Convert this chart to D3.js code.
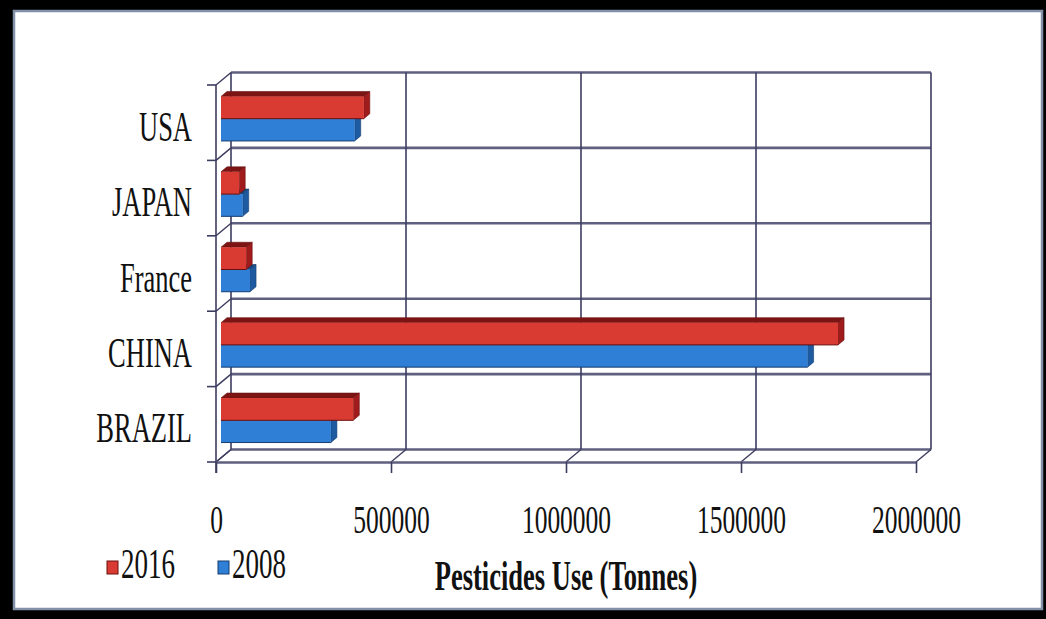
<!DOCTYPE html>
<html>
<head>
<meta charset="utf-8">
<script src="https://cdn.jsdelivr.net/npm/d3@7"></script>
<style>
  html, body { margin: 0; padding: 0; background: #000; }
  svg { display: block; }
  text { font-family: "Liberation Serif", "Times New Roman", serif; fill: #111; }
</style>
</head>
<body>
<svg id="chart" width="1046" height="619"></svg>
<script>
// Pesticide use by country, 2008 vs 2016 (tonnes)
const categories = ["USA", "JAPAN", "France", "CHINA", "BRAZIL"];
const seriesNames = ["2016", "2008"];
const values2016 = [408000, 52000, 72000, 1763000, 378000];
const values2008 = [382000, 62000, 83000, 1676000, 314000];
const xTicks = [0, 500000, 1000000, 1500000, 2000000];
const xTitle = "Pesticides Use (Tonnes)";

const svg = d3.select("#chart");
const W = 1046, H = 619;

// page frame
svg.append("rect").attr("width", W).attr("height", H).attr("fill", "#000");
svg.append("rect").attr("x", 14).attr("y", 11).attr("width", 1028).attr("height", 598)
  .attr("fill", "#fff").attr("stroke", "#8391a8").attr("stroke-width", 2.5);

// 3D plot geometry: front plane origin, wall depth offset
const fx = 216, fyTop = 85, fyBot = 462;
const depth = { dx: 15, dy: -12.5 };
const plotW = 700;
const textStretch = 1.6;

const x = d3.scaleLinear().domain([0, 2000000]).range([0, plotW]);
const yFront = d3.scaleBand().domain(categories).range([fyTop, fyBot]);
const step = yFront.step();

const lineCol = "#3d3d60";
const gridCol = "#5f5f80";

const g = svg.append("g");

// back wall horizontal gridlines (category boundaries)
const boundaries = d3.range(categories.length + 1).map(i => fyTop + i * step);
g.selectAll(".hgrid").data(boundaries).join("line")
  .attr("x1", fx + depth.dx).attr("x2", fx + depth.dx + plotW)
  .attr("y1", d => d + depth.dy).attr("y2", d => d + depth.dy)
  .attr("stroke", gridCol).attr("stroke-width", 2.6);

// back wall vertical gridlines (value ticks)
g.selectAll(".vgrid").data(xTicks).join("line")
  .attr("x1", d => fx + depth.dx + x(d)).attr("x2", d => fx + depth.dx + x(d))
  .attr("y1", fyTop + depth.dy).attr("y2", fyBot + depth.dy)
  .attr("stroke", lineCol).attr("stroke-width", 1.6);

// side wall: diagonals at each category boundary
g.selectAll(".sdiag").data(boundaries).join("line")
  .attr("x1", fx).attr("y1", d => d)
  .attr("x2", fx + depth.dx).attr("y2", d => d + depth.dy)
  .attr("stroke", lineCol).attr("stroke-width", 1.4);

// floor: diagonals at each value tick
g.selectAll(".fdiag").data(xTicks).join("line")
  .attr("x1", d => fx + x(d)).attr("y1", fyBot)
  .attr("x2", d => fx + depth.dx + x(d)).attr("y2", fyBot + depth.dy)
  .attr("stroke", lineCol).attr("stroke-width", 1.4);

// front-left axis line and its boundary ticks
g.append("line").attr("x1", fx).attr("x2", fx).attr("y1", fyTop).attr("y2", fyBot + 11)
  .attr("stroke", lineCol).attr("stroke-width", 1.6);
g.selectAll(".ytick").data(boundaries).join("line")
  .attr("x1", fx - 9).attr("x2", fx).attr("y1", d => d).attr("y2", d => d)
  .attr("stroke", lineCol).attr("stroke-width", 1.6);

// 3D bars
const barShift = { dx: 5, dy: -4 };     // bar plane sits a third into the depth
const barDepth = { dx: 6, dy: -5 };
const yBar = d3.scaleBand().domain(categories)
  .range([fyTop + barShift.dy, fyBot + barShift.dy])
  .paddingInner(0.41).paddingOuter(0.205);
const ySeries = d3.scaleBand().domain(seriesNames).range([0, yBar.bandwidth()]);

const palette = {
  "2016": { front: "#d93a31", top: "#7c1414", side: "#a01c1c", edge: "#6a1010" },
  "2008": { front: "#2f7fd6", top: "#17497f", side: "#1d5aa0", edge: "#163d6e" }
};

const bars = [];
categories.forEach((c, i) => {
  bars.push({ cat: c, s: "2008", v: values2008[i] });
  bars.push({ cat: c, s: "2016", v: values2016[i] });
});

const bx0 = fx + barShift.dx;
const barG = g.selectAll(".bar").data(bars).join("g").attr("class", "bar");
barG.each(function(d) {
  const sel = d3.select(this);
  const col = palette[d.s];
  const x0 = bx0, x1 = bx0 + x(d.v);
  const y0 = yBar(d.cat) + ySeries(d.s), h = ySeries.bandwidth();
  const ddx = barDepth.dx, ddy = barDepth.dy;
  // top face
  sel.append("path")
    .attr("d", `M${x0},${y0}L${x1},${y0}L${x1 + ddx},${y0 + ddy}L${x0 + ddx},${y0 + ddy}Z`)
    .attr("fill", col.top).attr("stroke", col.edge).attr("stroke-width", 0.6);
  // side face
  sel.append("path")
    .attr("d", `M${x1},${y0}L${x1 + ddx},${y0 + ddy}L${x1 + ddx},${y0 + h + ddy}L${x1},${y0 + h}Z`)
    .attr("fill", col.side).attr("stroke", col.edge).attr("stroke-width", 0.6);
  // front face
  sel.append("rect").attr("x", x0).attr("y", y0).attr("width", x1 - x0).attr("height", h)
    .attr("fill", col.front);
  sel.append("line").attr("x1", x0).attr("x2", x1).attr("y1", y0 + h).attr("y2", y0 + h)
    .attr("stroke", col.edge).attr("stroke-width", 1);
});

// value axis along the front edge of the floor
const xAxis = d3.axisBottom(x).tickValues(xTicks).tickSize(11).tickSizeOuter(0)
  .tickFormat(d3.format("d"));
const xa = svg.append("g").attr("transform", `translate(${fx},${fyBot})`).call(xAxis);
xa.select(".domain").attr("stroke", gridCol).attr("stroke-width", 2.6);
xa.selectAll(".tick line").attr("stroke", lineCol).attr("stroke-width", 1.6);
xa.selectAll(".tick text")
  .attr("y", 71 / textStretch).attr("dy", 0)
  .attr("transform", `scale(1,${textStretch})`)
  .style("font-family", "'Liberation Serif', serif").style("font-size", "25.5px")
  .attr("fill", "#111");

// category axis labels
const yAxis = d3.axisLeft(yFront).tickSize(0).tickPadding(24);
const ya = svg.append("g").attr("transform", `translate(${fx},0)`).call(yAxis);
ya.select(".domain").remove();
ya.selectAll(".tick text")
  .attr("dy", (18 / textStretch) + "px")
  .attr("transform", `scale(1,${textStretch})`)
  .style("font-family", "'Liberation Serif', serif").style("font-size", "26.5px")
  .attr("fill", "#111");

// axis title
svg.append("text")
  .attr("transform", `translate(${fx + plotW / 2},590) scale(1,${textStretch})`)
  .attr("text-anchor", "middle")
  .style("font-size", "26.5px").style("font-weight", "bold")
  .text(xTitle);

// legend
const legendX = [107, 218];
const lg = svg.selectAll(".legend").data(seriesNames).join("g")
  .attr("transform", (d, i) => `translate(${legendX[i]},0)`);
lg.append("rect").attr("x", 0).attr("y", 561).attr("width", 11).attr("height", 13)
  .attr("fill", d => palette[d].front).attr("stroke", d => palette[d].edge).attr("stroke-width", 1);
lg.append("text")
  .attr("transform", `translate(14,578) scale(1,${textStretch})`)
  .style("font-size", "27px")
  .text(d => d);
</script>
</body>
</html>
